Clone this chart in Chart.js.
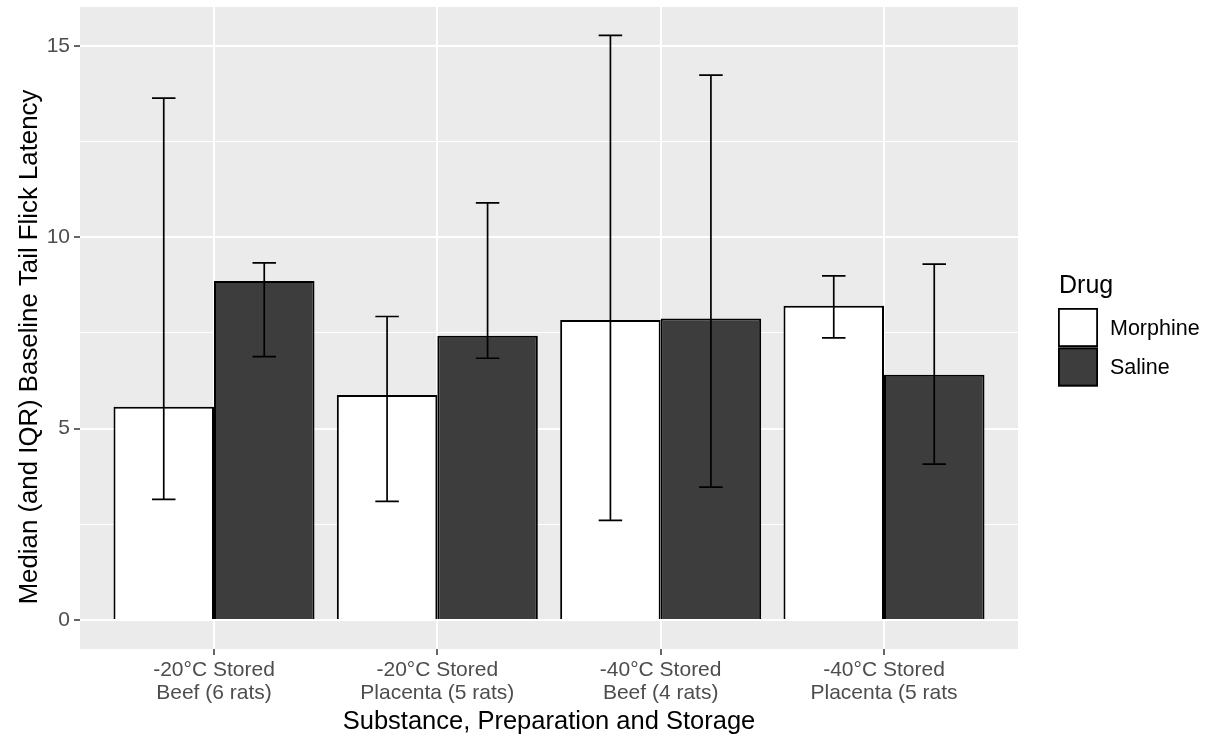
<!DOCTYPE html>
<html>
<head>
<meta charset="utf-8">
<script src="https://cdn.jsdelivr.net/npm/chart.js@4.4.1/dist/chart.umd.min.js"></script>
<style>
  html, body { margin: 0; padding: 0; background: #fff; }
  #wrap { width: 1207px; height: 744px; position: relative; }
</style>
</head>
<body>
<div id="wrap"><canvas id="grafico"></canvas></div>
<script>
// categories and values
const categorias = [
    ['-20°C Stored', 'Beef (6 rats)'],
    ['-20°C Stored', 'Placenta (5 rats)'],
    ['-40°C Stored', 'Beef (4 rats)'],
    ['-40°C Stored', 'Placenta (5 rats']
];
const seriesNames = ['Morphine', 'Saline'];
const morphineMedian = [5.57, 5.88, 7.84, 8.21];
const morphineQ1 = [3.15, 3.10, 2.60, 7.37];
const morphineQ3 = [13.64, 7.93, 15.28, 8.99];
const salineMedian = [8.86, 7.43, 7.88, 6.41];
const salineQ1 = [6.88, 6.84, 3.47, 4.07];
const salineQ3 = [9.33, 10.90, 14.24, 9.30];
const yTicks = [0, 2.5, 5, 7.5, 10, 12.5, 15];
const yMajor = [0, 5, 10, 15];
const yTitulo = 'Median (and IQR) Baseline Tail Flick Latency';

const fillColors = ['#ffffff', '#3d3d3d'];
const fuente = "'Liberation Sans', Arial, sans-serif";

function toPoints(arr) {
    return arr.map((v, i) => ({ x: i + 1, y: v }));
}

const rangos = [
    { lo: morphineQ1, hi: morphineQ3 },
    { lo: salineQ1, hi: salineQ3 }
];

const panelBg = {
    id: 'panelBg',
    beforeDraw(chart) {
        const a = chart.chartArea;
        const ctx = chart.ctx;
        ctx.save();
        ctx.fillStyle = '#ebebeb';
        ctx.fillRect(a.left, a.top, a.right - a.left, a.bottom - a.top);
        ctx.restore();
    }
};

const errorBars = {
    id: 'errorBars',
    afterDatasetsDraw(chart) {
        const ctx = chart.ctx;
        const y = chart.scales.y;
        ctx.save();
        ctx.strokeStyle = '#000';
        ctx.lineWidth = 1.7;
        rangos.forEach((r, d) => {
            const meta = chart.getDatasetMeta(d);
            meta.data.forEach((bar, i) => {
                const x = bar.x;
                const half = bar.width * 0.117;
                const yLo = y.getPixelForValue(r.lo[i]);
                const yHi = y.getPixelForValue(r.hi[i]);
                ctx.beginPath();
                ctx.moveTo(x, yLo); ctx.lineTo(x, yHi);
                ctx.moveTo(x - half, yLo); ctx.lineTo(x + half, yLo);
                ctx.moveTo(x - half, yHi); ctx.lineTo(x + half, yHi);
                ctx.stroke();
            });
        });
        ctx.restore();
    }
};

// legend and y title drawn beside the panel
const leyenda = {
    id: 'leyenda',
    afterDraw(chart) {
        const a = chart.chartArea;
        const ctx = chart.ctx;
        const x0 = a.right + 40;
        const mid = (a.top + a.bottom) / 2;
        ctx.save();
        ctx.fillStyle = '#000';
        ctx.textBaseline = 'middle';
        ctx.textAlign = 'left';
        ctx.font = '25px ' + fuente;
        ctx.fillText('Drug', x0 + 1, mid - 42);
        seriesNames.forEach((name, i) => {
            const top = mid - 20 + i * 39.5;
            ctx.fillStyle = fillColors[i];
            ctx.fillRect(x0, top, 40, 39);
            ctx.strokeStyle = '#000';
            ctx.lineWidth = 1.8;
            ctx.strokeRect(x0 + 0.9, top + 0.9, 38.2, 37.2);
            ctx.fillStyle = '#000';
            ctx.font = '21.5px ' + fuente;
            ctx.fillText(name, x0 + 52, top + 21);
        });

        ctx.translate(chart.scales.y.left + 30, mid + 19);
        ctx.rotate(-Math.PI / 2);
        ctx.textAlign = 'center';
        ctx.font = '25.8px ' + fuente;
        ctx.fillText(yTitulo, 0, 0);
        ctx.restore();
    }
};

const ctx = document.getElementById('grafico').getContext('2d');
const chart = new Chart(ctx, {
    type: 'bar',
    data: {
        datasets: [
            {
                label: seriesNames[0],
                data: toPoints(morphineMedian),
                backgroundColor: fillColors[0],
                borderColor: '#000',
                borderWidth: 2
            },
            {
                label: seriesNames[1],
                data: toPoints(salineMedian),
                backgroundColor: fillColors[1],
                borderColor: '#000',
                borderWidth: 2
            }
        ]
    },
    options: {
        responsive: true,
        maintainAspectRatio: false,
        animation: false,
        categoryPercentage: 0.9,
        barPercentage: 1.0,
        layout: { padding: { top: 7, right: 189, left: 0, bottom: 0 } },
        plugins: {
            legend: { display: false },
            tooltip: { enabled: false }
        },
        scales: {
            x: {
                type: 'linear',
                min: 0.4,
                max: 4.6,
                offset: false,
                afterBuildTicks(scale) {
                    scale.ticks = categorias.map((c, i) => ({ value: i + 1 }));
                },
                afterFit(scale) {
                    scale.height = 95;
                    scale.paddingLeft = 0;
                    scale.paddingRight = 0;
                },
                border: { display: false },
                grid: {
                    offset: false,
                    color: '#ffffff',
                    lineWidth: 2,
                    tickColor: '#333333',
                    tickWidth: 1.5,
                    tickLength: 6
                },
                ticks: {
                    autoSkip: false,
                    maxRotation: 0,
                    padding: 4,
                    color: '#4d4d4d',
                    font: { family: fuente, size: 21, lineHeight: 1.1 },
                    callback: (v) => categorias[v - 1] || ''
                },
                title: {
                    display: true,
                    text: 'Substance, Preparation and Storage',
                    color: '#000',
                    font: { family: fuente, size: 25.5 },
                    padding: { top: 0, bottom: 7 }
                }
            },
            y: {
                min: -0.76,
                max: 16.02,
                afterBuildTicks(scale) {
                    scale.ticks = yTicks.map(v => ({ value: v }));
                },
                afterFit(scale) {
                    scale.width = 80;
                    scale.paddingTop = 0;
                    scale.paddingBottom = 0;
                },
                border: { display: false },
                grid: {
                    color: '#ffffff',
                    lineWidth: (c) => yMajor.includes(c.tick.value) ? 2 : 1,
                    tickColor: (c) => yMajor.includes(c.tick.value) ? '#333333' : 'rgba(0,0,0,0)',
                    tickWidth: 1.5,
                    tickLength: 6
                },
                ticks: {
                    padding: 4,
                    color: '#4d4d4d',
                    font: { family: fuente, size: 21 },
                    callback: (v) => yMajor.includes(v) ? String(v) : ''
                },
                title: { display: false }
            }
        }
    },
    plugins: [panelBg, errorBars, leyenda]
});
</script>
</body>
</html>
